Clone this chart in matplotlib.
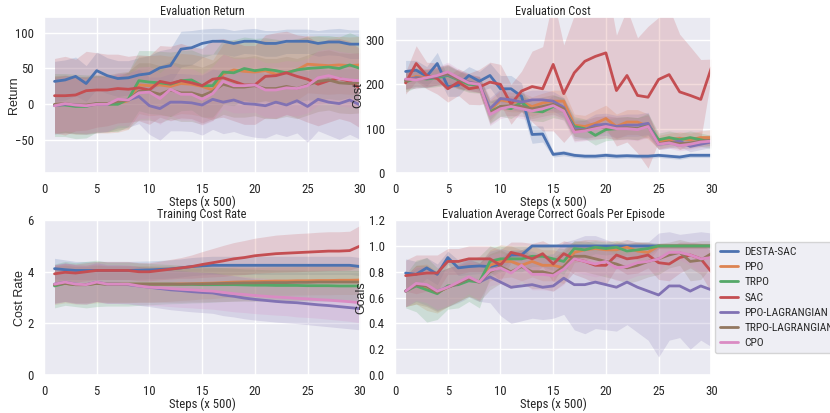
import matplotlib
matplotlib.use('Agg')
import matplotlib.pyplot as plt
from matplotlib import font_manager as fm
import seaborn as sns
import numpy as np

sns.set_theme(style='darkgrid', palette='deep')

# the reference text is a narrow Arial-like face; use a condensed family if one is installed
entries = fm.fontManager.ttflist
names = {e.name for e in entries}
narrow = None
stretch = 'normal'
for cand in ['Liberation Sans Narrow', 'Arial Narrow', 'Roboto Condensed', 'Noto Sans Condensed',
             'DejaVu Sans Condensed', 'Open Sans Condensed']:
    if cand in names:
        narrow = cand
        break
if narrow is None:
    for e in entries:
        if e.name in ('Liberation Sans', 'Noto Sans', 'Roboto', 'DejaVu Sans', 'Open Sans', 'Lato', 'Inter') \
                and e.stretch in ('condensed', 'semi-condensed') and e.style == 'normal' and e.weight in (400, 'normal', 'regular'):
            narrow = e.name
            stretch = e.stretch
            break
if narrow is None:
    plt.rcParams['font.family'] = ['Liberation Sans', 'DejaVu Sans']
    fs = 0.87
else:
    plt.rcParams['font.family'] = [narrow, 'Liberation Sans', 'DejaVu Sans']
    plt.rcParams['font.stretch'] = stretch
    fs = 1.0

steps = list(range(1, 31))
algos = ['DESTA-SAC', 'PPO', 'TRPO', 'SAC', 'PPO-LAGRANGIAN', 'TRPO-LAGRANGIAN', 'CPO']

# ---- Evaluation Return
ret_desta = [32, 34, 39, 29, 47, 40, 36, 37, 41, 43, 51, 54, 77, 79, 85, 88, 88, 85, 88, 88, 85, 85, 88, 88, 88, 85, 87, 87, 84, 84]
ret_ppo = [-1, 0, -2, -2, 0, 0, 1, 5, 27, 26, 27, 25, 29, 28, 25, 20, 42, 48, 46, 45, 47, 42, 44, 48, 56, 55, 54, 55, 54, 55]
ret_trpo = [-1, -1, -3, -3, 1, 0, 0, 7, 33, 31, 30, 28, 33, 34, 26, 26, 45, 44, 50, 47, 49, 47, 44, 48, 50, 51, 52, 50, 55, 50]
ret_sac = [12, 12, 13, 19, 20, 20, 22, 21, 23, 20, 32, 29, 33, 30, 26, 35, 37, 32, 27, 27, 39, 40, 44, 39, 35, 28, 33, 36, 32, 22]
ret_ppol = [-2, 0, -1, -2, 0, 0, 5, 6, 11, -2, -6, 3, 3, 2, -1, 7, 3, 6, 1, 0, -2, 3, -1, 5, -3, 7, 3, 1, 6, -1]
ret_trpol = [0, 1, -1, -1, 1, 1, 4, 6, 18, 18, 14, 20, 16, 16, 12, 18, 28, 24, 24, 26, 22, 22, 25, 22, 27, 32, 34, 30, 29, 30]
ret_cpo = [-2, 1, -1, -2, 0, 0, 7, 6, 16, 17, 8, 21, 14, 14, 7, 15, 32, 26, 26, 27, 20, 20, 23, 22, 26, 37, 40, 36, 34, 33]

ret_desta_sd = [28, 28, 27, 25, 26, 25, 25, 24, 24, 25, 24, 24, 25, 24, 20, 18, 18, 18, 17, 18, 18, 18, 17, 17, 17, 18, 18, 19, 20, 20]
ret_ppo_sd = [40, 40, 40, 40, 40, 40, 40, 40, 40, 42, 42, 42, 42, 42, 42, 42, 42, 42, 42, 42, 42, 42, 42, 42, 40, 40, 40, 40, 40, 40]
ret_trpo_sd = [44, 44, 45, 44, 40, 38, 38, 38, 42, 44, 44, 45, 42, 42, 44, 44, 45, 46, 44, 45, 44, 44, 45, 44, 44, 45, 44, 44, 45, 44]
ret_sac_sd = [52, 55, 50, 55, 52, 50, 48, 46, 46, 48, 50, 52, 52, 50, 52, 55, 55, 55, 55, 55, 58, 60, 58, 58, 60, 58, 58, 56, 56, 55]
ret_ppol_sd = [40, 40, 40, 40, 40, 38, 38, 38, 38, 40, 44, 40, 40, 40, 42, 42, 44, 44, 44, 46, 45, 44, 44, 45, 50, 44, 46, 50, 48, 48]
ret_trpol_sd = [40, 40, 40, 40, 40, 40, 40, 40, 40, 40, 40, 40, 40, 40, 40, 40, 42, 42, 42, 42, 42, 42, 42, 42, 42, 42, 42, 42, 42, 42]
ret_cpo_sd = [38, 38, 38, 38, 38, 38, 36, 36, 36, 36, 36, 36, 36, 36, 36, 38, 38, 38, 38, 38, 38, 38, 38, 38, 38, 38, 38, 38, 38, 38]

# ---- Evaluation Cost
cost_desta = [229, 232, 218, 247, 195, 198, 220, 207, 220, 190, 190, 173, 87, 88, 42, 45, 40, 38, 38, 40, 38, 39, 38, 38, 40, 38, 36, 40, 40, 40]
cost_ppo = [210, 218, 215, 218, 222, 210, 205, 200, 140, 165, 160, 160, 150, 158, 162, 162, 108, 105, 112, 123, 105, 115, 115, 105, 70, 75, 78, 75, 80, 80]
cost_trpo = [205, 215, 212, 215, 220, 210, 200, 198, 138, 150, 145, 160, 140, 138, 150, 145, 105, 100, 85, 98, 100, 102, 100, 110, 75, 80, 75, 80, 75, 70]
cost_sac = [203, 247, 220, 213, 190, 205, 190, 194, 205, 200, 155, 185, 195, 190, 245, 179, 226, 252, 263, 271, 186, 220, 175, 171, 211, 222, 183, 175, 166, 237]
cost_ppol = [210, 215, 213, 218, 222, 212, 205, 200, 145, 168, 165, 160, 165, 165, 162, 148, 100, 98, 108, 110, 105, 108, 108, 112, 65, 68, 72, 60, 65, 70]
cost_trpol = [208, 212, 214, 219, 224, 212, 203, 199, 135, 150, 152, 150, 145, 150, 155, 145, 95, 97, 102, 104, 101, 102, 100, 106, 66, 70, 66, 68, 72, 74]
cost_cpo = [212, 210, 215, 220, 228, 215, 203, 200, 132, 145, 150, 145, 140, 145, 152, 140, 92, 95, 100, 105, 100, 100, 98, 105, 65, 68, 62, 65, 70, 72]

cost_desta_sd = [25, 22, 22, 25, 22, 25, 20, 22, 28, 30, 30, 30, 20, 18, 6, 6, 5, 5, 5, 6, 5, 5, 5, 5, 5, 5, 5, 5, 5, 5]
cost_ppo_sd = [20, 22, 20, 20, 22, 20, 18, 18, 25, 22, 22, 22, 22, 22, 25, 25, 25, 25, 30, 30, 28, 28, 28, 28, 15, 15, 15, 15, 15, 18]
cost_trpo_sd = [22, 22, 20, 20, 22, 20, 18, 18, 25, 22, 22, 22, 22, 22, 25, 25, 22, 22, 22, 25, 25, 25, 25, 25, 15, 15, 15, 15, 15, 15]
cost_sac_sd = [25, 40, 30, 35, 30, 30, 35, 40, 45, 45, 45, 45, 80, 95, 150, 110, 130, 150, 160, 170, 125, 150, 130, 160, 140, 150, 130, 110, 90, 20]
cost_ppol_sd = [20, 20, 20, 20, 22, 20, 18, 18, 25, 22, 22, 22, 22, 22, 22, 22, 22, 22, 25, 25, 25, 25, 25, 25, 12, 12, 12, 12, 12, 12]
cost_trpol_sd = [20, 20, 20, 20, 22, 20, 18, 18, 25, 22, 22, 22, 22, 22, 22, 22, 22, 22, 25, 25, 25, 25, 25, 25, 12, 12, 12, 12, 12, 12]
cost_cpo_sd = [20, 20, 20, 20, 22, 20, 18, 18, 25, 22, 22, 22, 22, 22, 22, 22, 22, 22, 25, 25, 25, 25, 25, 25, 12, 12, 12, 12, 12, 12]

# ---- Training Cost Rate
rate_desta = [4.12, 4.08, 4.05, 4.05, 4.05, 4.05, 4.05, 4.05, 4.06, 4.07, 4.09, 4.11, 4.15, 4.2, 4.23, 4.25, 4.25, 4.25, 4.25, 4.25, 4.25, 4.25, 4.25, 4.25, 4.25, 4.25, 4.25, 4.25, 4.25, 4.2]
rate_ppo = [3.48, 3.55, 3.5, 3.5, 3.55, 3.52, 3.52, 3.52, 3.52, 3.52, 3.52, 3.52, 3.53, 3.53, 3.55, 3.56, 3.58, 3.6, 3.61, 3.62, 3.63, 3.64, 3.64, 3.65, 3.65, 3.66, 3.66, 3.67, 3.67, 3.68]
rate_trpo = [3.45, 3.55, 3.5, 3.5, 3.55, 3.52, 3.52, 3.52, 3.52, 3.52, 3.52, 3.52, 3.51, 3.51, 3.5, 3.5, 3.5, 3.5, 3.49, 3.48, 3.48, 3.47, 3.47, 3.47, 3.46, 3.46, 3.46, 3.45, 3.45, 3.45]
rate_sac = [3.92, 3.98, 3.95, 4.0, 4.05, 4.05, 4.05, 4.05, 4.0, 4.0, 4.05, 4.1, 4.15, 4.2, 4.28, 4.35, 4.42, 4.5, 4.55, 4.62, 4.66, 4.7, 4.72, 4.74, 4.76, 4.78, 4.8, 4.8, 4.82, 5.0]
rate_ppol = [3.52, 3.6, 3.52, 3.5, 3.6, 3.52, 3.52, 3.5, 3.45, 3.4, 3.35, 3.3, 3.27, 3.23, 3.2, 3.18, 3.1, 3.05, 2.98, 2.93, 2.89, 2.85, 2.82, 2.8, 2.76, 2.72, 2.69, 2.65, 2.61, 2.57]
rate_trpol = [3.5, 3.55, 3.5, 3.5, 3.55, 3.52, 3.52, 3.52, 3.52, 3.52, 3.52, 3.52, 3.52, 3.53, 3.53, 3.54, 3.55, 3.56, 3.57, 3.57, 3.58, 3.58, 3.58, 3.59, 3.59, 3.6, 3.6, 3.6, 3.6, 3.6]
rate_cpo = [3.52, 3.6, 3.52, 3.5, 3.6, 3.52, 3.52, 3.52, 3.45, 3.4, 3.38, 3.35, 3.32, 3.3, 3.27, 3.25, 3.2, 3.15, 3.12, 3.08, 3.05, 3.02, 3.0, 2.97, 2.95, 2.92, 2.9, 2.87, 2.84, 2.8]

rate_desta_sd = [0.4, 0.38, 0.35, 0.35, 0.35, 0.35, 0.35, 0.35, 0.35, 0.35, 0.35, 0.35, 0.35, 0.35, 0.35, 0.35, 0.35, 0.35, 0.35, 0.35, 0.35, 0.35, 0.35, 0.35, 0.35, 0.35, 0.35, 0.35, 0.35, 0.35]
rate_ppo_sd = [0.75, 0.75, 0.75, 0.75, 0.75, 0.72, 0.72, 0.72, 0.7, 0.7, 0.68, 0.66, 0.64, 0.62, 0.6, 0.6, 0.58, 0.58, 0.56, 0.55, 0.55, 0.55, 0.55, 0.55, 0.55, 0.55, 0.55, 0.55, 0.55, 0.55]
rate_trpo_sd = [0.85, 0.85, 0.85, 0.9, 0.9, 0.85, 0.85, 0.85, 0.82, 0.8, 0.78, 0.76, 0.74, 0.72, 0.7, 0.68, 0.66, 0.64, 0.62, 0.62, 0.6, 0.6, 0.6, 0.6, 0.6, 0.6, 0.6, 0.6, 0.6, 0.6]
rate_sac_sd = [0.35, 0.35, 0.35, 0.35, 0.35, 0.35, 0.35, 0.35, 0.35, 0.35, 0.36, 0.38, 0.4, 0.45, 0.5, 0.55, 0.6, 0.63, 0.66, 0.68, 0.7, 0.72, 0.73, 0.74, 0.74, 0.75, 0.75, 0.75, 0.75, 0.8]
rate_ppol_sd = [0.75, 0.75, 0.75, 0.75, 0.75, 0.75, 0.75, 0.75, 0.75, 0.75, 0.76, 0.77, 0.78, 0.78, 0.78, 0.79, 0.8, 0.8, 0.8, 0.8, 0.8, 0.8, 0.8, 0.81, 0.81, 0.81, 0.82, 0.82, 0.82, 0.82]
rate_trpol_sd = [0.7, 0.7, 0.7, 0.7, 0.7, 0.7, 0.7, 0.7, 0.7, 0.7, 0.7, 0.7, 0.7, 0.7, 0.7, 0.7, 0.7, 0.7, 0.7, 0.7, 0.7, 0.7, 0.7, 0.7, 0.7, 0.7, 0.7, 0.7, 0.7, 0.7]
rate_cpo_sd = [0.75, 0.75, 0.75, 0.75, 0.75, 0.75, 0.75, 0.75, 0.72, 0.7, 0.7, 0.7, 0.7, 0.7, 0.7, 0.7, 0.7, 0.7, 0.7, 0.7, 0.7, 0.7, 0.7, 0.72, 0.72, 0.72, 0.74, 0.75, 0.76, 0.78]

# ---- Evaluation Average Correct Goals Per Episode
goal_desta = [0.79, 0.78, 0.83, 0.78, 0.91, 0.83, 0.84, 0.845, 0.84, 0.86, 0.93, 0.93, 1.0, 1.0, 1.0, 1.0, 1.0, 1.0, 1.0, 1.0, 1.0, 1.0, 1.0, 1.0, 1.0, 1.0, 1.0, 1.0, 1.0, 1.0]
goal_ppo = [0.65, 0.7, 0.68, 0.64, 0.68, 0.71, 0.74, 0.72, 0.85, 0.88, 0.88, 0.85, 0.88, 0.85, 0.85, 0.83, 0.95, 0.97, 0.98, 0.97, 0.97, 0.99, 0.96, 0.95, 1.0, 1.0, 1.0, 1.0, 1.0, 1.0]
goal_trpo = [0.65, 0.69, 0.66, 0.63, 0.69, 0.7, 0.73, 0.72, 0.88, 0.9, 0.9, 0.9, 0.92, 0.92, 0.9, 0.88, 0.98, 0.97, 0.99, 0.98, 0.99, 0.96, 0.97, 0.98, 1.0, 1.0, 1.0, 1.0, 1.0, 1.0]
goal_sac = [0.77, 0.78, 0.79, 0.79, 0.88, 0.88, 0.9, 0.9, 0.9, 0.85, 0.95, 0.93, 0.9, 0.94, 0.86, 0.94, 0.9, 0.88, 0.85, 0.85, 0.93, 0.9, 0.91, 0.93, 0.87, 0.86, 0.91, 0.93, 0.9, 0.8]
goal_ppol = [0.65, 0.7, 0.69, 0.65, 0.68, 0.71, 0.75, 0.72, 0.76, 0.72, 0.68, 0.69, 0.7, 0.68, 0.69, 0.75, 0.7, 0.7, 0.72, 0.7, 0.68, 0.72, 0.68, 0.65, 0.62, 0.69, 0.69, 0.65, 0.69, 0.66]
goal_trpol = [0.65, 0.7, 0.69, 0.64, 0.68, 0.71, 0.75, 0.72, 0.8, 0.84, 0.8, 0.84, 0.8, 0.8, 0.78, 0.84, 0.92, 0.92, 0.9, 0.88, 0.86, 0.83, 0.85, 0.88, 0.9, 0.93, 0.95, 0.88, 0.89, 0.94]
goal_cpo = [0.65, 0.71, 0.7, 0.65, 0.68, 0.72, 0.76, 0.72, 0.81, 0.83, 0.79, 0.85, 0.78, 0.78, 0.77, 0.82, 0.9, 0.88, 0.86, 0.88, 0.83, 0.84, 0.87, 0.88, 0.9, 0.95, 0.95, 0.93, 0.9, 0.91]

goal_desta_sd = [0.11, 0.1, 0.08, 0.08, 0.05, 0.06, 0.06, 0.06, 0.06, 0.05, 0.04, 0.04, 0.01, 0.01, 0.01, 0.01, 0.01, 0.01, 0.01, 0.01, 0.01, 0.01, 0.01, 0.01, 0.01, 0.01, 0.01, 0.01, 0.01, 0.01]
goal_ppo_sd = [0.12, 0.15, 0.18, 0.16, 0.15, 0.14, 0.13, 0.14, 0.12, 0.13, 0.12, 0.12, 0.12, 0.12, 0.12, 0.12, 0.08, 0.08, 0.07, 0.07, 0.07, 0.06, 0.07, 0.07, 0.02, 0.02, 0.02, 0.02, 0.02, 0.02]
goal_trpo_sd = [0.13, 0.2, 0.25, 0.2, 0.18, 0.18, 0.16, 0.2, 0.12, 0.1, 0.1, 0.1, 0.08, 0.08, 0.09, 0.1, 0.06, 0.06, 0.05, 0.05, 0.05, 0.06, 0.06, 0.05, 0.02, 0.02, 0.02, 0.02, 0.02, 0.02]
goal_sac_sd = [0.12, 0.15, 0.14, 0.14, 0.1, 0.1, 0.1, 0.1, 0.1, 0.12, 0.08, 0.1, 0.12, 0.1, 0.14, 0.1, 0.12, 0.13, 0.14, 0.15, 0.1, 0.12, 0.12, 0.1, 0.13, 0.13, 0.12, 0.1, 0.12, 0.16]
goal_ppol_sd = [0.12, 0.13, 0.15, 0.15, 0.15, 0.15, 0.15, 0.15, 0.2, 0.26, 0.28, 0.27, 0.26, 0.25, 0.25, 0.28, 0.35, 0.38, 0.36, 0.35, 0.34, 0.33, 0.35, 0.38, 0.48, 0.42, 0.4, 0.45, 0.42, 0.44]
goal_trpol_sd = [0.12, 0.15, 0.16, 0.15, 0.15, 0.14, 0.14, 0.15, 0.14, 0.13, 0.13, 0.13, 0.13, 0.13, 0.13, 0.13, 0.12, 0.12, 0.12, 0.12, 0.12, 0.12, 0.12, 0.12, 0.12, 0.1, 0.1, 0.15, 0.15, 0.1]
goal_cpo_sd = [0.12, 0.13, 0.14, 0.14, 0.14, 0.14, 0.13, 0.14, 0.12, 0.12, 0.12, 0.12, 0.12, 0.12, 0.12, 0.12, 0.1, 0.1, 0.1, 0.1, 0.1, 0.1, 0.1, 0.1, 0.1, 0.06, 0.06, 0.08, 0.1, 0.1]

panels = [
    ('Evaluation Return', 'Return', (-96, 122), None, -0.076, -0.142,
     [ret_desta, ret_ppo, ret_trpo, ret_sac, ret_ppol, ret_trpol, ret_cpo],
     [ret_desta_sd, ret_ppo_sd, ret_trpo_sd, ret_sac_sd, ret_ppol_sd, ret_trpol_sd, ret_cpo_sd]),
    ('Evaluation Cost', 'Cost', (0, 352), None, -0.097, -0.142,
     [cost_desta, cost_ppo, cost_trpo, cost_sac, cost_ppol, cost_trpol, cost_cpo],
     [cost_desta_sd, cost_ppo_sd, cost_trpo_sd, cost_sac_sd, cost_ppol_sd, cost_trpol_sd, cost_cpo_sd]),
    ('Training Cost Rate', 'Cost Rate', (0, 6), [0, 2, 4, 6], -0.056, -0.148,
     [rate_desta, rate_ppo, rate_trpo, rate_sac, rate_ppol, rate_trpol, rate_cpo],
     [rate_desta_sd, rate_ppo_sd, rate_trpo_sd, rate_sac_sd, rate_ppol_sd, rate_trpol_sd, rate_cpo_sd]),
    ('Evaluation Average Correct Goals Per Episode', 'Goals', (0, 1.2), [0, 0.2, 0.4, 0.6, 0.8, 1.0, 1.2], -0.088, -0.148,
     [goal_desta, goal_ppo, goal_trpo, goal_sac, goal_ppol, goal_trpol, goal_cpo],
     [goal_desta_sd, goal_ppo_sd, goal_trpo_sd, goal_sac_sd, goal_ppol_sd, goal_trpol_sd, goal_cpo_sd]),
]

boxes = [
    [0.053, 0.581, 0.381, 0.378],
    [0.476, 0.581, 0.381, 0.378],
    [0.053, 0.092, 0.381, 0.375],
    [0.476, 0.092, 0.381, 0.375],
]

colors = sns.color_palette('deep')
fig = plt.figure(figsize=(8.3, 4.13), dpi=100)

for (title, ylabel, ylim, yticks, ylab_x, xlab_y, means, sds), box in zip(panels, boxes):
    ax = fig.add_axes(box)
    for i, name in enumerate(algos):
        m = np.array(means[i])
        s = np.array(sds[i])
        ax.plot(steps, m, color=colors[i], lw=2, label=name)
        ax.fill_between(steps, m - s, m + s, color=colors[i], alpha=0.2, lw=0)
    ax.set_xlim(0, 30)
    ax.set_ylim(*ylim)
    if yticks is not None:
        ax.set_yticks(yticks)
    if ylabel == 'Goals':
        ax.set_yticklabels(['%.1f' % t for t in yticks])
    ax.set_title(title, fontsize=8.8 * fs, pad=1.5)
    ax.set_xlabel('Steps (x 500)', fontsize=9.2 * fs)
    ax.xaxis.set_label_coords(0.5, xlab_y)
    ax.set_ylabel(ylabel, fontsize=9, family=['Liberation Sans', 'DejaVu Sans'])
    ax.yaxis.set_label_coords(ylab_x, 0.5)
    ax.tick_params(labelsize=9.2 * fs, pad=1.5)
    last = ax

last.legend(loc='center left', bbox_to_anchor=(1.012, 0.5), fontsize=8.2 * fs, frameon=True,
            handlelength=1.6, handletextpad=0.5, borderaxespad=0, borderpad=0.45,
            labelspacing=0.45)

plt.savefig('out.png', dpi=100)
